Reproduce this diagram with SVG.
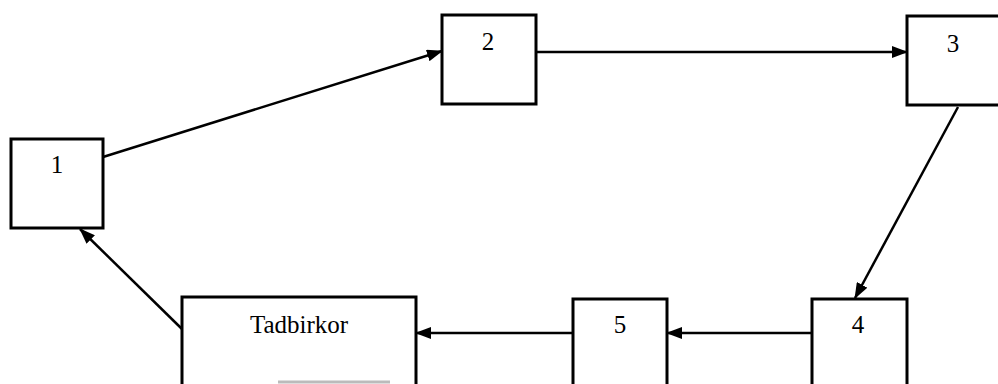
<svg xmlns="http://www.w3.org/2000/svg" width="998" height="384" viewBox="0 0 998 384">
<style>
.box{fill:#fff;stroke:#000;stroke-width:3}
.lbl{font-family:"Liberation Serif",serif;font-size:25px;fill:#000;text-anchor:middle}
.con{stroke:#000;stroke-width:2.5;fill:none;marker-end:url(#ah)}
</style>
<defs>
<marker id="ah" markerUnits="userSpaceOnUse" markerWidth="16" markerHeight="12" refX="15" refY="6" orient="auto">
<path d="M0,0 L16,6 L0,12 Z" fill="#000"/>
</marker>
</defs>
<rect width="998" height="384" fill="#fff"/>
<g id="n1"><rect class="box" x="11" y="139" width="92" height="89"/><text class="lbl" x="57" y="173">1</text></g>
<g id="n2"><rect class="box" x="442" y="15" width="94" height="89"/><text class="lbl" x="488" y="50">2</text></g>
<g id="n3"><rect class="box" x="907" y="16" width="100" height="89"/><text class="lbl" x="953" y="52">3</text></g>
<g id="n4"><rect class="box" x="812" y="299" width="95" height="95"/><text class="lbl" x="858" y="333">4</text></g>
<g id="n5"><rect class="box" x="573" y="299" width="94" height="95"/><text class="lbl" x="620" y="333">5</text></g>
<g id="tadbirkor"><rect class="box" x="182" y="297" width="234" height="97"/><text class="lbl" x="299" y="333">Tadbirkor</text><line x1="278" y1="382" x2="390" y2="382" stroke="#bbb" stroke-width="3"/></g>
<g id="connectors">
<line class="con" x1="103" y1="157" x2="442" y2="51"/>
<line class="con" x1="536" y1="52" x2="907" y2="52"/>
<line class="con" x1="958" y1="107" x2="855" y2="298"/>
<line class="con" x1="812" y1="333" x2="667" y2="333"/>
<line class="con" x1="573" y1="333" x2="416" y2="333"/>
<line class="con" x1="182" y1="329" x2="80" y2="229"/>
</g>
</svg>
